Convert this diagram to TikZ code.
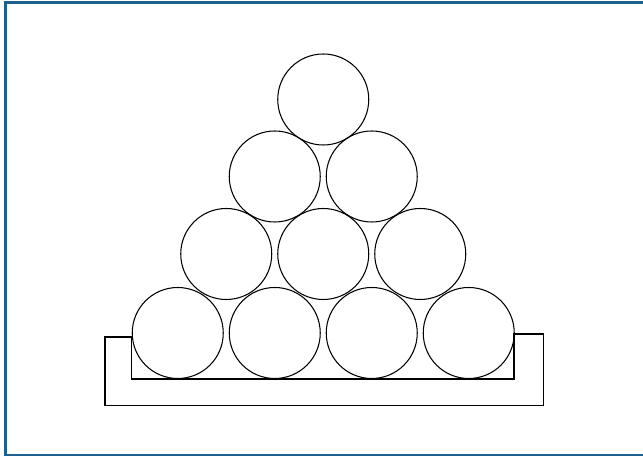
\documentclass[tikz,border=0pt]{standalone}
\usepackage{tikz}
\usetikzlibrary{positioning,calc}
\usepackage{xcolor}
\definecolor{framecol}{RGB}{28,96,142}

\begin{document}
\begin{tikzpicture}[
  ball/.style={draw, circle, minimum size=1.82cm, inner sep=0pt, line width=0.6pt},
  tray/.style={draw, line width=0.6pt}
]
\useasboundingbox (0,0) rectangle (12.86,9.12);
% frame (open on the right)
\draw[framecol, line width=1.5pt] (12.86,9.066) -- (0.106,9.066) -- (0.106,0.01) -- (12.86,0.01);
% tray
\draw[tray] (2.10,2.38) -- (2.10,1.006) -- (10.866,1.006) -- (10.866,2.44) -- (10.28,2.44)
  -- (10.28,1.54) -- (2.634,1.54) -- (2.634,2.38) -- cycle;
% bottom row
\node[ball] (b1) at (3.555,2.46) {};
\node[ball] (b2) at (5.495,2.46) {};
\node[ball] (b3) at (7.435,2.46) {};
\node[ball] (b4) at (9.375,2.46) {};
% second row
\node[ball] (c1) at (4.525,4.04) {};
\node[ball] (c2) at (6.465,4.04) {};
\node[ball] (c3) at (8.405,4.04) {};
% third row
\node[ball] (d1) at (5.495,5.59) {};
\node[ball] (d2) at (7.435,5.59) {};
% top
\node[ball] (top) at (6.465,7.13) {};
\end{tikzpicture}
\end{document}
